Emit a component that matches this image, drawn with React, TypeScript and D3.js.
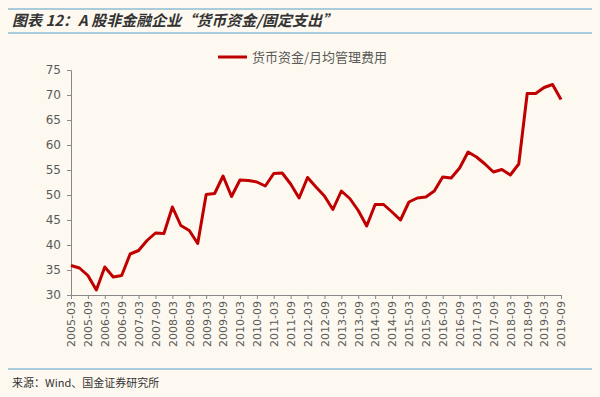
import React, { useRef, useEffect } from 'react';
import * as d3 from 'd3';

const quarters: string[] = [];
for (let y = 2005; y <= 2019; y++) {
  for (const m of ['03', '06', '09', '12']) {
    if (y === 2019 && m === '12') continue;
    quarters.push(`${y}-${m}`);
  }
}

const cashRatio = [
  35.9, 35.4, 33.9, 31.0, 35.6, 33.6, 33.9, 38.2, 38.9, 40.9, 42.4, 42.3,
  47.6, 43.9, 42.9, 40.3, 50.1, 50.3, 53.8, 49.7, 53.0, 52.9, 52.6, 51.8,
  54.3, 54.4, 52.2, 49.4, 53.5, 51.6, 49.8, 47.1, 50.8, 49.3, 46.9, 43.8,
  48.1, 48.1, 46.6, 45.0, 48.6, 49.4, 49.6, 50.8, 53.6, 53.4, 55.4, 58.6,
  57.6, 56.2, 54.6, 55.1, 54.0, 56.2, 70.3, 70.3, 71.5, 72.1, 69.1,
];

const yTicks = [30, 35, 40, 45, 50, 55, 60, 65, 70, 75];
const xLabels = quarters.filter((q) => q.endsWith('-03') || q.endsWith('-09'));

const seriesName = '货币资金/月均管理费用';
const title = '图表 12：A 股非金融企业“货币资金/固定支出”';
const source = '来源：Wind、国金证券研究所';

const App: React.FC = () => {
  const svgRef = useRef<SVGSVGElement | null>(null);

  useEffect(() => {
    if (!svgRef.current) return;
    const w = 600;
    const h = 397;
    const svg = d3.select(svgRef.current).attr('width', w).attr('height', h);
    svg.selectAll('*').remove();

    svg.append('rect').attr('width', w).attr('height', h).attr('fill', '#fdf9f0');

    // header / footer rules
    svg.append('line').attr('x1', 8).attr('x2', 592).attr('y1', 9).attr('y2', 9)
      .attr('stroke', '#8dbdd3').attr('stroke-width', 1.5);
    svg.append('line').attr('x1', 8).attr('x2', 592).attr('y1', 33).attr('y2', 33)
      .attr('stroke', '#8dbdd3').attr('stroke-width', 1.5);
    svg.append('line').attr('x1', 8).attr('x2', 592).attr('y1', 369).attr('y2', 369)
      .attr('stroke', '#8dbdd3').attr('stroke-width', 1.5);

    svg.append('text').attr('x', 12).attr('y', 26)
      .attr('font-family', '"Noto Sans CJK SC", sans-serif')
      .attr('font-size', 15).attr('font-weight', 'bold').attr('font-style', 'italic')
      .attr('fill', '#333').text(title);

    svg.append('text').attr('x', 12).attr('y', 387)
      .attr('font-family', '"Noto Sans CJK SC", sans-serif')
      .attr('font-size', 11).attr('fill', '#333').text(source);

    const x = d3.scalePoint<string>().domain(quarters).range([71, 561]);
    const y = d3.scaleLinear().domain([30, 75]).range([295, 70]);

    const font = '"DejaVu Sans", "Noto Sans CJK SC", sans-serif';

    const yAxis = d3.axisLeft(y).tickValues(yTicks).tickSize(4).tickPadding(6);
    const gy = svg.append('g').attr('transform', `translate(${x(quarters[0])},0)`).call(yAxis);
    gy.selectAll('text').attr('font-family', font).attr('font-size', 12).attr('fill', '#595959');
    gy.selectAll('line, path').attr('stroke', '#888');

    const xAxis = d3.axisBottom(x).tickValues(xLabels).tickSize(4).tickPadding(4);
    const gx = svg.append('g').attr('transform', `translate(0,${y(30)})`).call(xAxis);
    gx.select('.domain').attr('stroke', '#888');
    gx.selectAll('line').attr('stroke', '#888');
    gx.selectAll('text')
      .attr('font-family', font).attr('font-size', 11).attr('fill', '#595959')
      .attr('transform', 'rotate(-90)')
      .attr('text-anchor', 'end')
      .attr('x', -6).attr('y', 0).attr('dy', '0.35em');

    const line = d3.line<number>()
      .x((_, i) => x(quarters[i]) as number)
      .y((d) => y(d));

    svg.append('path').datum(cashRatio).attr('d', line)
      .attr('fill', 'none').attr('stroke', '#c00000').attr('stroke-width', 3)
      .attr('stroke-linejoin', 'round');

    // legend
    svg.append('line').attr('x1', 218).attr('x2', 247).attr('y1', 57).attr('y2', 57)
      .attr('stroke', '#c00000').attr('stroke-width', 3);
    svg.append('text').attr('x', 252).attr('y', 62)
      .attr('font-family', '"Noto Sans CJK SC", sans-serif')
      .attr('font-size', 13).attr('fill', '#595959').text(seriesName);
  }, []);

  return (
    <div style={{ position: 'absolute', left: 0, top: 0 }}>
      <svg ref={svgRef} style={{ display: 'block' }}></svg>
    </div>
  );
};

export default App;
